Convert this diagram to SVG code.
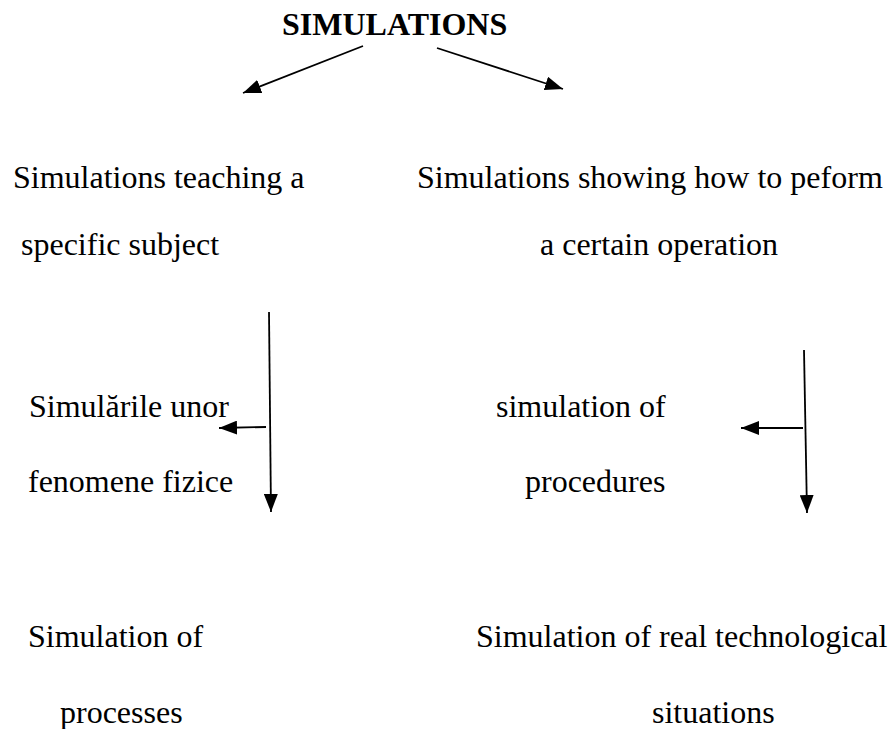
<svg xmlns="http://www.w3.org/2000/svg" width="891" height="729" viewBox="0 0 891 729" font-family="'Liberation Serif', Tinos, 'Times New Roman', Times, serif">
<style>
text{font-family:'Liberation Serif',Tinos,'Times New Roman',Times,serif;font-size:32px;fill:#000}
.title{font-weight:bold}
.conn{stroke:#000;stroke-width:1.8;fill:none;marker-end:url(#ah)}
</style>
<defs>
<marker id="ah" viewBox="0 0 18 14" refX="18" refY="7" markerWidth="18" markerHeight="14" markerUnits="userSpaceOnUse" orient="auto">
<path d="M0,0 L18,7 L0,14 z" fill="#000"/>
</marker>
</defs>
<rect width="891" height="729" fill="#fff"/>
<g id="n-title"><text class="title" x="282" y="35">SIMULATIONS</text></g>
<g id="n-teaching"><text x="13" y="188">Simulations teaching a</text><text x="21" y="255">specific subject</text></g>
<g id="n-showing"><text x="417" y="188">Simulations showing how to peform</text><text x="540" y="255">a certain operation</text></g>
<g id="n-fenomene"><text x="29" y="417">Simulările unor</text><text x="28" y="492">fenomene fizice</text></g>
<g id="n-procedures"><text x="496" y="417">simulation of</text><text x="525" y="492">procedures</text></g>
<g id="n-processes"><text x="28" y="647">Simulation of</text><text x="60" y="723">processes</text></g>
<g id="n-technological"><text x="476" y="647">Simulation of real technological</text><text x="652" y="723">situations</text></g>
<g id="connectors">
<line class="conn" x1="363" y1="46" x2="243" y2="93"/>
<line class="conn" x1="437" y1="48" x2="563" y2="89"/>
<line class="conn" x1="269" y1="312" x2="271" y2="512"/>
<line class="conn" x1="266" y1="427" x2="219" y2="428"/>
<line class="conn" x1="804" y1="350" x2="807" y2="513"/>
<line class="conn" x1="803" y1="428" x2="741" y2="428"/>
</g>
</svg>
